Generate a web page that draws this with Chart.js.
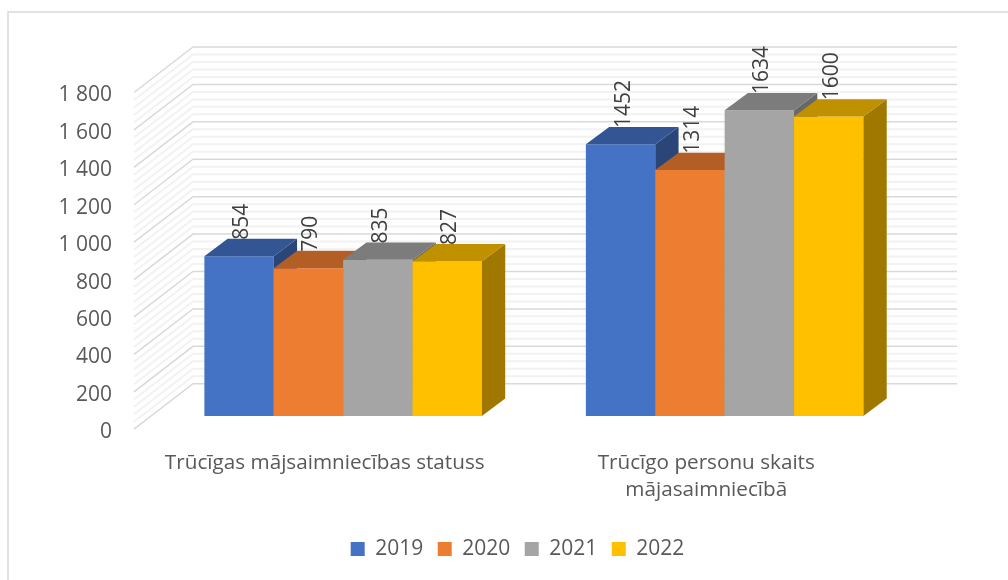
<!DOCTYPE html>
<html>
<head>
<meta charset="utf-8">
<script src="https://cdn.jsdelivr.net/npm/chart.js@4"></script>
<style>
    html, body { margin: 0; padding: 0; background: #fff; }
    #wrap { width: 1008px; height: 580px; }
</style>
</head>
<body>
<div id="wrap"><canvas id="chart" width="1008" height="580"></canvas></div>
<script>
const categories = ['Trūcīgas mājsaimniecības statuss', ['Trūcīgo personu skaits', 'mājasaimniecībā']];
const seriesNames = ['2019', '2020', '2021', '2022'];
const values2019 = [854, 1452];
const values2020 = [790, 1314];
const values2021 = [835, 1634];
const values2022 = [827, 1600];
const yTickLabels = ['0', '200', '400', '600', '800', '1 000', '1 200', '1 400', '1 600', '1 800'];

const FONT = '"Open Sans", sans-serif';
// Excel style colours: front, top face, side face
const faces = [
    ['#4472C4', '#335593', '#2A4678'],
    ['#ED7D31', '#B25E25', '#95501F'],
    ['#A5A5A5', '#7C7C7C', '#686868'],
    ['#FFC000', '#BF9000', '#A07800']
];

// fake 3D: wall depth, where the bars stand on the floor, how deep they are
const WALL_DX = 59;
const WALL_DY = -45.5;
const BAR_DX = 18.4;
const BAR_DY = -13.3;
const DEPTH_DX = 23.3;
const DEPTH_DY = -17.3;

function poly(ctx, pts, fill) {
    ctx.beginPath();
    pts.forEach((p, i) => i ? ctx.lineTo(p[0], p[1]) : ctx.moveTo(p[0], p[1]));
    ctx.closePath();
    ctx.fillStyle = fill;
    ctx.fill();
}

function wallLine(ctx, x, y, v, colour, width) {
    const py = y.getPixelForValue(v);
    ctx.beginPath();
    ctx.moveTo(x.left, py);
    ctx.lineTo(x.left + WALL_DX, py + WALL_DY);
    ctx.lineTo(x.right + WALL_DX + 1, py + WALL_DY);
    ctx.strokeStyle = colour;
    ctx.lineWidth = width;
    ctx.stroke();
}

const wall3d = {
    id: 'wall3d',
    beforeDatasetsDraw(chart) {
        const ctx = chart.ctx;
        const y = chart.scales.y;
        const x = chart.scales.x;
        ctx.save();
        // frame, only top and left show in the picture
        ctx.strokeStyle = '#d9d9d9';
        ctx.lineWidth = 1.5;
        ctx.strokeRect(8, 12, 1100, 1100);

        // minor lines first, majors on top
        for (let v = 0; v <= 1800; v += 40) {
            if (v % 200 === 0) continue;
            wallLine(ctx, x, y, v, '#f2f2f2', 2);
        }
        for (let v = 0; v <= 1800; v += 200) {
            wallLine(ctx, x, y, v, '#d9d9d9', 1.5);
        }

        // bars, left to right so each one covers the side of the previous one
        chart.getSortedVisibleDatasetMetas().slice().sort((a, b) => a.index - b.index).forEach(meta => {
            ctx.save();
            ctx.translate(BAR_DX, BAR_DY);
            meta.controller.draw();
            ctx.restore();
            const f = faces[meta.index];
            meta.data.forEach(bar => {
                const l = bar.x - bar.width / 2 + BAR_DX;
                const r = bar.x + bar.width / 2 + BAR_DX;
                const t = bar.y + BAR_DY;
                const b = bar.base + BAR_DY;
                poly(ctx, [[r, t], [r + DEPTH_DX, t + DEPTH_DY], [r + DEPTH_DX, b + DEPTH_DY], [r, b]], f[2]);
                poly(ctx, [[l, t], [l + DEPTH_DX, t + DEPTH_DY], [r + DEPTH_DX, t + DEPTH_DY], [r, t]], f[1]);
            });
        });

        // rotated value labels, bottom of the text at the back edge of the top face
        ctx.fillStyle = '#404040';
        ctx.font = '21px ' + FONT;
        ctx.textAlign = 'left';
        ctx.textBaseline = 'middle';
        chart.getSortedVisibleDatasetMetas().forEach(meta => {
            const ds = chart.data.datasets[meta.index];
            meta.data.forEach((bar, i) => {
                ctx.save();
                ctx.translate(bar.x + BAR_DX + 3, bar.y + BAR_DY + DEPTH_DY + 1);
                ctx.rotate(-Math.PI / 2);
                ctx.fillText(String(ds.data[i]), 0, 0);
                ctx.restore();
            });
        });
        ctx.restore();
        return false;
    }
};

new Chart(document.getElementById('chart'), {
    type: 'bar',
    data: {
        labels: categories,
        datasets: [
            { label: seriesNames[0], data: values2019, backgroundColor: faces[0][0] },
            { label: seriesNames[1], data: values2020, backgroundColor: faces[1][0] },
            { label: seriesNames[2], data: values2021, backgroundColor: faces[2][0] },
            { label: seriesNames[3], data: values2022, backgroundColor: faces[3][0] }
        ]
    },
    options: {
        responsive: false,
        animation: false,
        layout: { padding: { left: 27, right: 0, top: 92.5, bottom: 10.5 } },
        datasets: { bar: { categoryPercentage: 0.7275, barPercentage: 1 } },
        scales: {
            x: {
                grid: { display: false, drawTicks: false },
                border: { display: false },
                ticks: {
                    padding: 20.5,
                    maxRotation: 0,
                    autoSkip: false,
                    color: '#595959',
                    font: { family: FONT, size: 20.7, lineHeight: 1.3 }
                },
                afterFit(s) { s.height = 94.8; }
            },
            y: {
                min: 0,
                max: 1800,
                grid: { display: false, drawTicks: false },
                border: { display: false },
                afterBuildTicks(s) { s.ticks = yTickLabels.map((_, i) => ({ value: i * 200 })); },
                ticks: {
                    padding: 22,
                    labelOffset: 3,
                    color: '#595959',
                    font: { family: FONT, size: 21 },
                    callback: (v, i) => yTickLabels[i]
                },
                afterFit(s) { s.width = 107; }
            },
            spare: {
                // empty axis, keeps the plot narrower than the legend row
                position: 'right',
                display: true,
                grid: { display: false },
                border: { display: false },
                ticks: { display: false },
                afterFit(s) { s.width = 111; }
            }
        },
        plugins: {
            tooltip: { enabled: false },
            legend: {
                position: 'bottom',
                labels: {
                    boxWidth: 14,
                    boxHeight: 14,
                    padding: 14.5,
                    color: '#595959',
                    font: { family: FONT, size: 21 }
                }
            }
        }
    },
    plugins: [wall3d]
});
</script>
</body>
</html>
